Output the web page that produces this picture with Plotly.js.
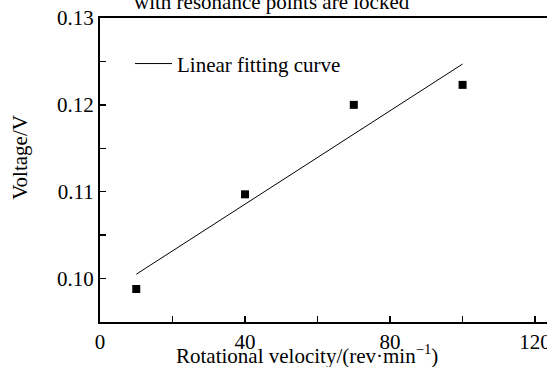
<!DOCTYPE html>
<html>
<head>
<meta charset="utf-8">
<script src="https://cdn.plot.ly/plotly-3.0.1.min.js"></script>
<style>
html,body{margin:0;padding:0;overflow:hidden;background:#fff;width:547px;height:367px;}
#chart{width:600px;height:367px;}
</style>
</head>
<body>
<div id="chart"></div>
<script>
// Data
const velocity = [10, 40, 70, 100];
const voltage = [0.0988, 0.1097, 0.1200, 0.1223];
const fitVelocity = [10, 100];
const fitVoltage = [0.1005, 0.1247];
const xTickVals = [0, 40, 80, 120];
const yTickVals = [0.10, 0.11, 0.12, 0.13];

const FONT = "Liberation Serif, Times New Roman, serif";

const traces = [
  {
    x: velocity, y: voltage, type: 'scatter', mode: 'markers',
    marker: {symbol: 'square', size: 8, color: '#000'},
    showlegend: false, hoverinfo: 'skip'
  },
  {
    x: fitVelocity, y: fitVoltage, type: 'scatter', mode: 'lines',
    line: {color: '#000', width: 1},
    name: 'Linear fitting curve', showlegend: true
  }
];

const layout = {
  width: 600, height: 367,
  margin: {l: 100, r: 0, t: 18, b: 45, pad: 0},
  paper_bgcolor: '#fff', plot_bgcolor: '#fff',
  font: {family: FONT, size: 21, color: '#000'},
  showlegend: true,
  legend: {
    x: 0.06, y: 0.849, xanchor: 'left', yanchor: 'middle',
    itemwidth: 37,
    bgcolor: 'rgba(0,0,0,0)', borderwidth: 0,
    font: {family: FONT, size: 21, color: '#000'}
  },
  xaxis: {
    range: [0, 137.9], tickvals: xTickVals, ticktext: xTickVals.map(String),
    ticks: 'inside', ticklen: 6, tickwidth: 1.5, tickcolor: '#000',
    minor: {dtick: 20, tick0: 0, ticks: 'inside', ticklen: 6, tickwidth: 1.5, tickcolor: '#000', showgrid: false},
    showline: true, linewidth: 2, linecolor: '#000', mirror: true,
    showgrid: false, zeroline: false,
    tickfont: {family: FONT, size: 21, color: '#000'}
  },
  yaxis: {
    range: [0.095, 0.13], tickvals: yTickVals, ticktext: yTickVals.map(v => v.toFixed(2)),
    ticks: 'inside', ticklen: 6, tickwidth: 1.5, tickcolor: '#000',
    minor: {dtick: 0.005, tick0: 0.095, ticks: 'inside', ticklen: 6, tickwidth: 1.5, tickcolor: '#000', showgrid: false},
    showline: true, linewidth: 2, linecolor: '#000', mirror: true,
    showgrid: false, zeroline: false,
    tickfont: {family: FONT, size: 21, color: '#000'}
  },
  annotations: [
    {text: 'with resonance points are locked', xref: 'paper', yref: 'paper',
     x: 0.344, y: 1.052, xanchor: 'center', yanchor: 'middle', showarrow: false,
     font: {family: FONT, size: 21, color: '#000'}},
    {text: 'Rotational velocity/(rev·min<sup>−1</sup>)', xref: 'paper', yref: 'paper',
     x: 0.414, y: -0.108, xanchor: 'center', yanchor: 'middle', showarrow: false,
     font: {family: FONT, size: 21, color: '#000'}},
    {text: 'Voltage/V', xref: 'paper', yref: 'paper', textangle: -90,
     x: -0.16, y: 0.54, xanchor: 'center', yanchor: 'middle', showarrow: false,
     font: {family: FONT, size: 21, color: '#000'}}
  ]
};

Plotly.newPlot('chart', traces, layout, {staticPlot: true, displayModeBar: false});
</script>
</body>
</html>
